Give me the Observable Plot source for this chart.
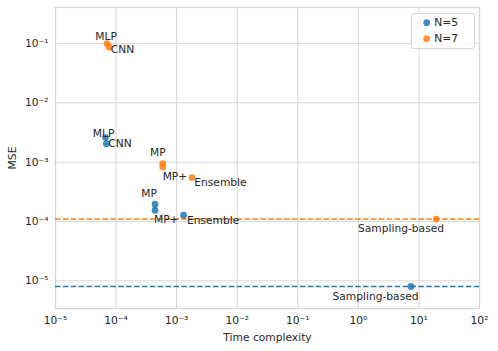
<!DOCTYPE html>
<html>
<head>
<meta charset="utf-8">
<script src="https://cdn.jsdelivr.net/npm/d3@7"></script>
<script src="https://cdn.jsdelivr.net/npm/@observablehq/plot@0.6"></script>
<style>
  html, body { margin: 0; padding: 0; background: white; }
</style>
</head>
<body>
<div id="chart"></div>
<script>
// ---- data ----
const series = ["N=5", "N=7"];
const methods = ["MLP", "CNN", "MP", "MP", "MP+Ensemble", "Sampling-based"];
const n5Time = [6.7e-5, 6.9e-5, 4.4e-4, 4.4e-4, 1.3e-3, 7.4];
const n5Mse  = [2.6e-3, 2.05e-3, 1.96e-4, 1.55e-4, 1.28e-4, 8.05e-6];
const n7Time = [7.1e-5, 7.7e-5, 5.9e-4, 5.9e-4, 1.79e-3, 19.3];
const n7Mse  = [0.099, 0.0867, 9.5e-4, 8.3e-4, 5.5e-4, 1.1e-4];
const baselineMse = [8.05e-6, 1.1e-4]; // sampling-based reference lines (N=5, N=7)
const labelText  = ["MLP", "CNN", "MP", "MP+", "Ensemble", "Sampling-based"];
const labelPoint = [0, 1, 2, 4, 4, 5];
const xTicks = [1e-5, 1e-4, 1e-3, 1e-2, 1e-1, 1, 10, 100];
const yTicks = [1e-5, 1e-4, 1e-3, 1e-2, 1e-1];
const colors = ["#1f77b4", "#ff7f0e"];

// ---- build tables ----
const times = {"N=5": n5Time, "N=7": n7Time};
const mses = {"N=5": n5Mse, "N=7": n7Mse};
const points = series.flatMap(s => times[s].map((t, i) => ({series: s, method: methods[i], time: t, mse: mses[s][i]})));
const baselines = series.map((s, i) => ({series: s, mse: baselineMse[i]}));

// label placement (pixel offsets from the labelled point)
const place = {
  "N=5": [[-2, -4.5, "middle"], [2, 0, "start"], [-6, -10.7, "middle"], [-5, 4.3, "end"], [3.4, 5, "start"], [-35.5, 10.3, "middle"]],
  "N=7": [[-1, -7, "middle"], [1.5, 2.3, "start"], [-5, -10.6, "middle"], [-4.7, -1.3, "end"], [2.3, 5.4, "start"], [-35.2, 9.4, "middle"]]
};

const FS = 10.7;
const sup = {"-": "⁻", "0": "⁰", "1": "¹", "2": "²", "3": "³", "4": "⁴", "5": "⁵", "6": "⁶", "7": "⁷", "8": "⁸", "9": "⁹"};
const fmt = d => "10" + String(Math.round(Math.log10(d))).split("").map(c => sup[c]).join("");

const labelMarks = [];
series.forEach(s => {
  labelText.forEach((txt, j) => {
    const i = labelPoint[j];
    const [dx, dy, anchor] = place[s][j];
    labelMarks.push(Plot.text([{time: times[s][i], mse: mses[s][i], txt}], {
      x: "time", y: "mse", text: "txt", dx, dy, textAnchor: anchor,
      fill: "#262626", fontSize: FS
    }));
  });
});

const gridColor = "#d6d6d6";
const plot = Plot.plot({
  width: 498,
  height: 351,
  marginLeft: 55,
  marginRight: 19,
  marginTop: 7,
  marginBottom: 43,
  style: {fontFamily: "DejaVu Sans", fontSize: FS + "px", color: "#262626", background: "white"},
  x: {type: "log", domain: [1e-5, 100]},
  y: {type: "log", domain: [3.43e-6, 0.404]},
  color: {domain: series, range: colors},
  marks: [
    Plot.gridX(xTicks, {stroke: gridColor, strokeOpacity: 1, strokeWidth: 1}),
    Plot.gridY(yTicks, {stroke: gridColor, strokeOpacity: 1, strokeWidth: 1}),
    Plot.frame({stroke: gridColor, strokeWidth: 1.2}),
    Plot.axisX({ticks: xTicks, tickFormat: fmt, tickSize: 0, tickPadding: 7.5, label: "Time complexity", labelAnchor: "center", labelArrow: "none", labelOffset: 32, fontSize: FS}),
    Plot.axisY({ticks: yTicks, tickFormat: fmt, tickSize: 0, tickPadding: 7, label: "MSE", labelAnchor: "center", labelArrow: "none", labelOffset: 47, fontSize: FS}),
    Plot.ruleY(baselines, {y: "mse", stroke: "series", strokeWidth: 1.5, strokeDasharray: "5.5,2.4"}),
    Plot.dot(points, {x: "time", y: "mse", fill: "series", r: 3.4, fillOpacity: 0.85, stroke: "none"}),
    ...labelMarks
  ]
});

// legend (upper right, inside the axes)
const color = plot.scale("color");
const svg = d3.select(plot);
const lg = svg.append("g").attr("font-family", "DejaVu Sans").attr("font-size", FS);
lg.append("rect").attr("x", 411.5).attr("y", 13.5).attr("width", 63).attr("height", 35)
  .attr("rx", 2.5).attr("fill", "white").attr("fill-opacity", 0.8).attr("stroke", "#d6d6d6");
series.forEach((s, i) => {
  const cy = 22.7 + i * 16;
  lg.append("circle").attr("cx", 426.7).attr("cy", cy).attr("r", 3.4)
    .attr("fill", color.apply(s)).attr("fill-opacity", 0.85);
  lg.append("text").attr("x", 446.2).attr("y", cy).attr("dy", "0.35em").attr("fill", "#262626").text(s);
});

document.getElementById("chart").appendChild(plot);
</script>
</body>
</html>
